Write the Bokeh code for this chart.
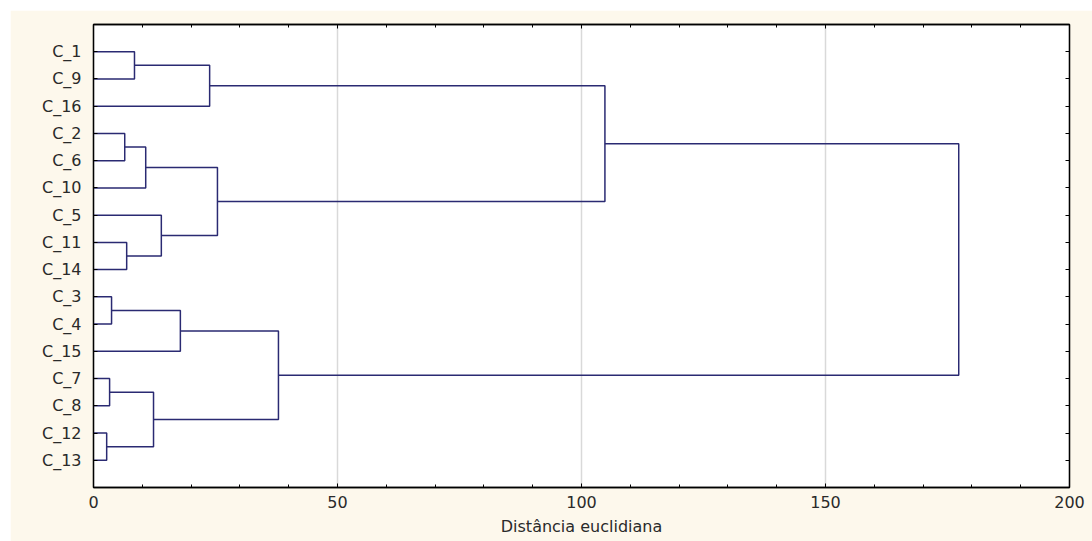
from bokeh.plotting import figure
from bokeh.models import Range1d, FixedTicker, SingleIntervalTicker, LinearAxis
from bokeh.embed import file_html
from bokeh.resources import INLINE

# Leaves in dendrogram order (top to bottom)
leaves = ["C_1", "C_9", "C_16", "C_2", "C_6", "C_10", "C_5", "C_11", "C_14",
          "C_3", "C_4", "C_15", "C_7", "C_8", "C_12", "C_13"]

# Linkage: cluster ids 0..15 are leaves (by position), 16.. are merges
merge_a = [14, 12, 9, 3, 7, 0, 19, 17, 6, 18, 21, 22, 25, 26, 29]
merge_b = [15, 13, 10, 4, 8, 1, 5, 16, 20, 11, 2, 24, 23, 27, 28]
merge_h = [2.7, 3.3, 3.7, 6.4, 6.8, 8.4, 10.7, 12.3, 13.9, 17.8, 23.8, 25.4,
           37.9, 104.8, 177.3]

x_ticks_grid = [50, 100, 150]
x_label = "Distância euclidiana"

FONT = "DejaVu Sans"
LINK = "#2a2a72"
CREAM = "#fdf8ec"
TEXT = "#2a2a2a"

n = len(leaves)
ypos = {i: i + 1.0 for i in range(n)}
hgt = {i: 0.0 for i in range(n)}

xs, ys = [], []
for k, (a, b, h) in enumerate(zip(merge_a, merge_b, merge_h)):
    cid = n + k
    # horizontal arms from each child to the merge height, plus the joining vertical
    xs.append([hgt[a], h, h, hgt[b]])
    ys.append([ypos[a], ypos[a], ypos[b], ypos[b]])
    ypos[cid] = (ypos[a] + ypos[b]) / 2.0
    hgt[cid] = h

p = figure(frame_width=976, frame_height=463,
           x_range=Range1d(0, 200), y_range=Range1d(n + 1, 0),
           output_backend="svg", toolbar_location=None,
           x_axis_location=None, y_axis_location=None,
           min_border_left=83, min_border_right=23,
           min_border_top=14, min_border_bottom=54)
p.margin = (10, 0, 0, 10)
p.background_fill_color = "white"
p.border_fill_color = CREAM
p.outline_line_color = "black"
p.outline_line_width = 1.3

p.multi_line(xs, ys, line_color=LINK, line_width=1.5)

leaf_ticker = FixedTicker(ticks=[i + 1 for i in range(n)])
x_ticker = SingleIntervalTicker(interval=50, num_minor_ticks=5)


def style(ax, labels=True):
    ax.axis_line_color = "black"
    ax.axis_line_width = 1.3
    ax.major_tick_in = 4
    ax.major_tick_out = 0
    ax.minor_tick_in = 3
    ax.minor_tick_out = 0
    ax.major_tick_line_color = "black"
    ax.minor_tick_line_color = "black"
    ax.major_label_text_font = FONT
    ax.major_label_text_font_size = "16px"
    ax.major_label_text_color = TEXT if labels else None


bottom = LinearAxis(ticker=x_ticker, axis_label=x_label)
style(bottom)
bottom.major_label_standoff = 8
bottom.axis_label_text_font = FONT
bottom.axis_label_text_font_size = "16px"
bottom.axis_label_text_font_style = "normal"
bottom.axis_label_text_color = TEXT
bottom.axis_label_standoff = 6
p.add_layout(bottom, "below")

top = LinearAxis(ticker=x_ticker)
style(top, labels=False)
p.add_layout(top, "above")

left = LinearAxis(ticker=leaf_ticker,
                  major_label_overrides={i + 1: name for i, name in enumerate(leaves)})
style(left)
left.minor_tick_line_color = None
left.major_label_standoff = 12
p.add_layout(left, "left")

right = LinearAxis(ticker=leaf_ticker)
style(right, labels=False)
right.minor_tick_line_color = None
p.add_layout(right, "right")

p.xgrid.ticker = FixedTicker(ticks=x_ticks_grid)
p.xgrid.grid_line_color = "#b4b4b4"
p.xgrid.grid_line_dash = "1 1"
p.xgrid.grid_line_width = 1.5
p.ygrid.grid_line_color = None

open("out.html", "w").write(file_html(p, INLINE))
